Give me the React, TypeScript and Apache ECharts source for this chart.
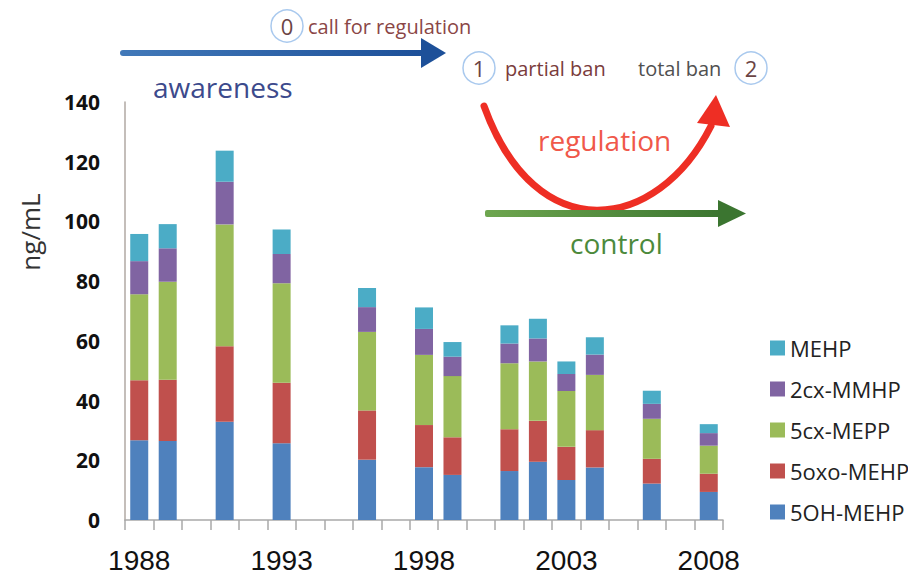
import React, { useEffect, useRef } from "react";
import * as echarts from "echarts";

const years = [
  "1988", "1989", "1990", "1991", "1992", "1993", "1994", "1995", "1996", "1997",
  "1998", "1999", "2000", "2001", "2002", "2003", "2004", "2005", "2006", "2007", "2008",
];

const s5OH = [26.7, 26.5, null, 32.9, null, 25.7, null, null, 20.2, null, 17.7, 15.1, null, 16.4, 19.5, 13.4, 17.6, null, 12.2, null, 9.4];
const s5oxo = [20.1, 20.5, null, 25.3, null, 20.3, null, null, 16.5, null, 14.1, 12.6, null, 14.0, 13.7, 11.1, 12.5, null, 8.3, null, 6.1];
const s5cx = [28.8, 32.8, null, 40.8, null, 33.3, null, null, 26.3, null, 23.5, 20.5, null, 22.1, 19.9, 18.7, 18.5, null, 13.4, null, 9.4];
const s2cx = [11.1, 11.2, null, 14.3, null, 9.8, null, null, 8.3, null, 8.7, 6.5, null, 6.6, 7.7, 5.7, 6.8, null, 5.0, null, 4.2];
const sMEHP = [9.1, 8.1, null, 10.4, null, 8.2, null, null, 6.4, null, 7.2, 4.9, null, 6.1, 6.6, 4.2, 5.8, null, 4.4, null, 3.0];

const seriesNames = ["5OH-MEHP", "5oxo-MEHP", "5cx-MEPP", "2cx-MMHP", "MEHP"];
const seriesColors = ["#4f81bd", "#c0504d", "#9bbb59", "#8064a2", "#4bacc6"];
const legendOrder = ["MEHP", "2cx-MMHP", "5cx-MEPP", "5oxo-MEHP", "5OH-MEHP"];

const FONT = "'Open Sans', 'DejaVu Sans', sans-serif";
const AXIS_FONT = "'Liberation Sans', Arial, sans-serif";

export default function App() {
  const ref = useRef<HTMLDivElement>(null);

  useEffect(() => {
    document.body.style.margin = "0";
    if (!ref.current) return;
    const chart = echarts.init(ref.current, null, { renderer: "svg" });
    const dataSets = [s5OH, s5oxo, s5cx, s2cx, sMEHP];

    const circle = (cx: number, cy: number, label: string) => [
      {
        type: "circle",
        shape: { cx, cy, r: 16 },
        style: { fill: "#ffffff", stroke: "#a9c9ee", lineWidth: 1.5 },
        z: 10,
      },
      {
        type: "text",
        x: cx,
        y: cy,
        style: {
          text: label,
          fontSize: 22,
          fontFamily: FONT,
          fill: "#6b4444",
          align: "center",
          verticalAlign: "middle",
        },
        z: 11,
      },
    ];

    const option: any = {
      animation: false,
      backgroundColor: "#ffffff",
      grid: { left: 125, right: 185, top: 102, bottom: 56, containLabel: false },
      legend: {
        orient: "vertical",
        left: 765,
        top: 332,
        itemWidth: 15,
        itemHeight: 15,
        itemGap: 19,
        icon: "rect",
        data: legendOrder,
        textStyle: { fontSize: 22, fontFamily: FONT, color: "#222222" },
      },
      xAxis: {
        type: "category",
        data: years,
        boundaryGap: true,
        axisLine: { show: true, lineStyle: { color: "#a9a9a9", width: 1.5 } },
        axisTick: { show: true, interval: 0, length: 10, lineStyle: { color: "#a9a9a9", width: 1.5 } },
        axisLabel: {
          interval: 4,
          margin: 26,
          fontSize: 28,
          fontFamily: AXIS_FONT,
          color: "#111111",
        },
        splitLine: { show: false },
      },
      yAxis: {
        type: "value",
        min: 0,
        max: 140,
        interval: 20,
        axisLine: { show: true, lineStyle: { color: "#b0a9a3", width: 1.5 } },
        axisTick: { show: false },
        splitLine: { show: false },
        axisLabel: {
          margin: 25,
          fontSize: 21,
          fontWeight: "bold",
          fontFamily: FONT,
          color: "#111111",
        },
      },
      series: seriesNames.map((name, i) => ({
        name,
        type: "bar",
        stack: "total",
        barWidth: 18,
        itemStyle: { color: seriesColors[i] },
        data: dataSets[i],
      })),
      graphic: [
        // blue arrow
        {
          type: "rect",
          shape: { x: 120, y: 50, width: 304, height: 6, r: 3 },
          style: {
            fill: new echarts.graphic.LinearGradient(0, 0, 1, 0, [
              { offset: 0, color: "#4279b9" },
              { offset: 1, color: "#1d5099" },
            ]),
          },
        },
        {
          type: "polygon",
          shape: { points: [[421, 38], [446, 53], [421, 68]] },
          style: { fill: "#1d5099" },
        },
        ...circle(287, 26, "0"),
        {
          type: "text",
          x: 308,
          y: 26,
          style: {
            text: "call for regulation",
            fontSize: 20,
            fontFamily: FONT,
            fill: "#8a4646",
            verticalAlign: "middle",
          },
        },
        {
          type: "text",
          x: 153,
          y: 87,
          style: {
            text: "awareness",
            fontSize: 28,
            fontFamily: FONT,
            fill: "#3c4a8c",
            verticalAlign: "middle",
          },
        },
        ...circle(479, 68, "1"),
        {
          type: "text",
          x: 505,
          y: 68,
          style: {
            text: "partial ban",
            fontSize: 20,
            fontFamily: FONT,
            fill: "#7a3c3c",
            verticalAlign: "middle",
          },
        },
        {
          type: "text",
          x: 638,
          y: 68,
          style: {
            text: "total ban",
            fontSize: 20,
            fontFamily: FONT,
            fill: "#505050",
            verticalAlign: "middle",
          },
        },
        ...circle(751, 68, "2"),
        // red curved arrow
        {
          type: "bezierCurve",
          shape: { x1: 484, y1: 106, cpx1: 536, cpy1: 250, cpx2: 657, cpy2: 233, x2: 711, y2: 126 },
          style: { stroke: "#ee2e24", lineWidth: 7, fill: null, lineCap: "round" },
        },
        {
          type: "polygon",
          shape: { points: [[697, 123], [716, 95], [730, 127]] },
          style: { fill: "#ee2e24" },
        },
        {
          type: "text",
          x: 538,
          y: 140,
          style: {
            text: "regulation",
            fontSize: 28,
            fontFamily: FONT,
            fill: "#f0584a",
            verticalAlign: "middle",
          },
        },
        // green arrow
        {
          type: "rect",
          shape: { x: 485, y: 210, width: 236, height: 7, r: 2 },
          style: {
            fill: new echarts.graphic.LinearGradient(0, 0, 1, 0, [
              { offset: 0, color: "#6ea64f" },
              { offset: 1, color: "#3b7530" },
            ]),
          },
        },
        {
          type: "polygon",
          shape: { points: [[718, 200], [746, 213.5], [718, 227]] },
          style: { fill: "#3b7530" },
        },
        {
          type: "text",
          x: 570,
          y: 243,
          style: {
            text: "control",
            fontSize: 28,
            fontFamily: FONT,
            fill: "#4c8a3c",
            verticalAlign: "middle",
          },
        },
        // y axis name
        {
          type: "text",
          x: 30,
          y: 232,
          rotation: Math.PI / 2,
          style: {
            text: "ng/mL",
            fontSize: 26,
            fontFamily: FONT,
            fill: "#333333",
            align: "center",
            verticalAlign: "middle",
          },
        },
      ],
    };

    chart.setOption(option);
    return () => chart.dispose();
  }, []);

  return <div ref={ref} style={{ width: 908, height: 576 }} />;
}
